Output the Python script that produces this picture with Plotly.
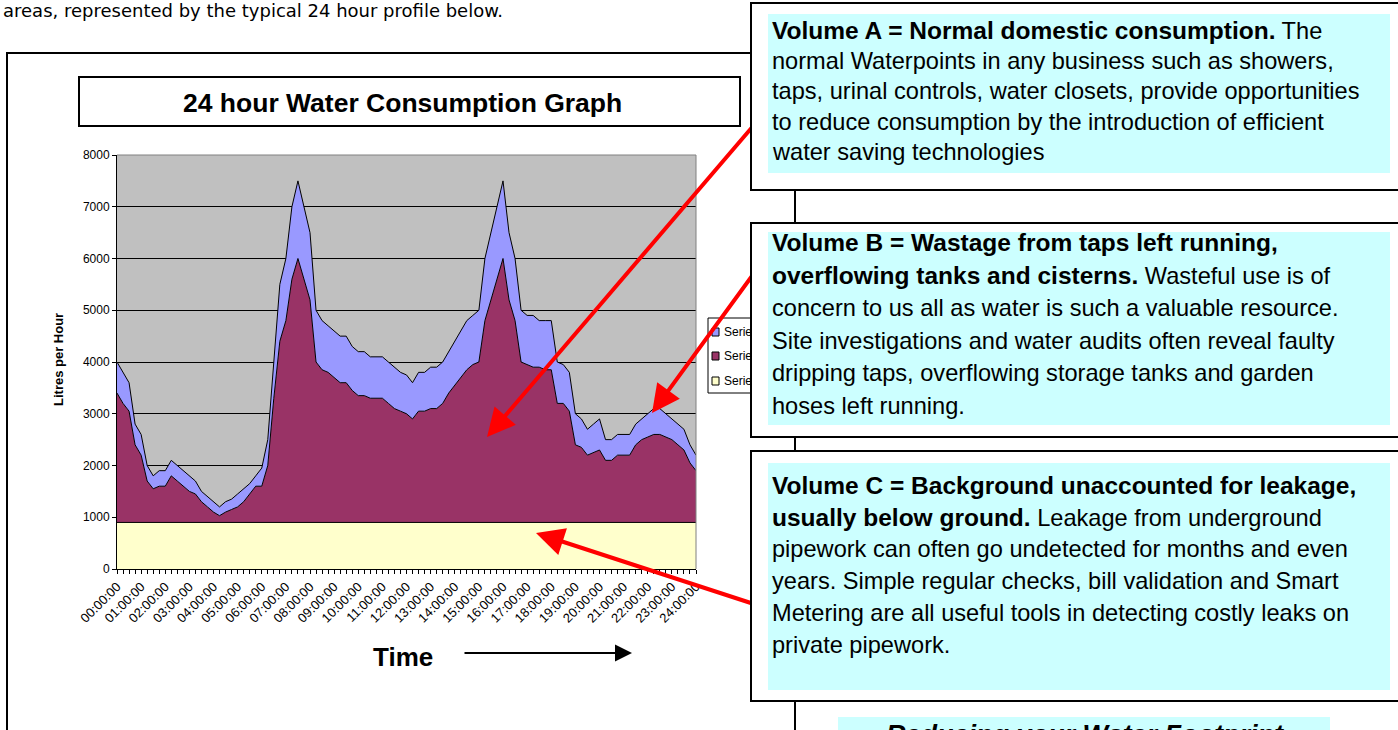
import plotly.graph_objects as go

# ---------------- data ----------------
# 15-minute readings, 00:00 .. 24:00 (97 points)
time_hours = [i / 4 for i in range(97)]
hour_labels = ["%02d:00:00" % h for h in range(25)]

# Series1 : background leakage (Volume C), litres/hour
leakage_c = [900] * 97

# top of Series2 (Volume A stacked on C)
top_a_c = [
    3400, 3200, 3050, 2400, 2200, 1700, 1550, 1600, 1600, 1800, 1700, 1600,
    1500, 1450, 1300, 1200, 1100, 1030, 1100, 1150, 1200, 1300, 1450, 1600,
    1600, 2000, 3300, 4400, 4800, 5600, 6000, 5600, 5200, 4000, 3850, 3800,
    3700, 3600, 3600, 3450, 3350, 3350, 3300, 3300, 3300, 3200, 3100, 3050,
    3000, 2900, 3050, 3050, 3100, 3100, 3200, 3400, 3550, 3700, 3850, 3950,
    4000, 4800, 5200, 5600, 6000, 5200, 4800, 4000, 3950, 3900, 3900, 3850,
    3850, 3200, 3200, 3050, 2400, 2350, 2200, 2250, 2300, 2100, 2100, 2200,
    2200, 2200, 2400, 2500, 2550, 2600, 2600, 2550, 2500, 2400, 2300, 2050,
    1900,
]

# top of Series3 (Volume B stacked on A + C) = total consumption
top_total = [
    4000, 3800, 3600, 2800, 2600, 2000, 1800, 1900, 1900, 2100, 2000, 1900,
    1800, 1700, 1500, 1400, 1300, 1200, 1300, 1350, 1450, 1550, 1650, 1800,
    1950, 2500, 4000, 5500, 6000, 7000, 7500, 7000, 6500, 5000, 4800, 4700,
    4600, 4500, 4500, 4300, 4200, 4200, 4100, 4100, 4100, 4000, 3900, 3800,
    3750, 3600, 3800, 3800, 3900, 3900, 4000, 4200, 4400, 4600, 4800, 4900,
    5000, 6000, 6500, 7000, 7500, 6500, 6000, 5000, 4900, 4900, 4800, 4800,
    4800, 4000, 3950, 3800, 3000, 2900, 2700, 2800, 2900, 2500, 2500, 2600,
    2600, 2600, 2800, 2900, 3000, 3100, 3100, 3000, 2900, 2800, 2700, 2400,
    2200,
]

series_names = ["Series1", "Series2", "Series3"]
series_colors = ["#FFFFCC", "#993366", "#9999FF"]

# ---------------- page geometry (pixels) ----------------
FIG_W, FIG_H = 1398, 730
PL, PT, PR, PB = 117, 155, 696, 569   # plot area


def px(x):
    return (x - PL) / (PR - PL)


def py(y):
    return (PB - y) / (PB - PT)


ARIAL = "Liberation Sans, Arial, sans-serif"

fig = go.Figure()
for name, ys, col, fill in zip(series_names, [leakage_c, top_a_c, top_total],
                               series_colors, ["tozeroy", "tonexty", "tonexty"]):
    fig.add_trace(go.Scatter(
        x=time_hours, y=ys, name=name, mode="lines",
        line=dict(color="black", width=1), fill=fill, fillcolor=col,
        hoverinfo="x+y",
    ))

shapes = []
annots = []


def rect(x0, y0, x1, y1, line="black", width=2, fill="rgba(0,0,0,0)", layer="above"):
    shapes.append(dict(type="rect", xref="paper", yref="paper",
                       x0=px(x0), x1=px(x1), y0=py(y0), y1=py(y1),
                       line=dict(color=line, width=width), fillcolor=fill, layer=layer))


def line(x0, y0, x1, y1, color="black", width=1):
    shapes.append(dict(type="line", xref="paper", yref="paper",
                       x0=px(x0), x1=px(x1), y0=py(y0), y1=py(y1),
                       line=dict(color=color, width=width), layer="above"))


def text(x, y, s, size, xanchor="left", yanchor="middle", family=ARIAL, angle=0, color="black"):
    annots.append(dict(x=px(x), y=py(y), xref="paper", yref="paper", text=s,
                       showarrow=False, xanchor=xanchor, yanchor=yanchor, textangle=angle,
                       font=dict(family=family, size=size, color=color)))


def arrow(x0, y0, x1, y1, color, width, head, size):
    annots.append(dict(x=px(x1), y=py(y1), xref="paper", yref="paper", text="",
                       showarrow=True, ax=x0 - x1, ay=y0 - y1, axref="pixel", ayref="pixel",
                       arrowcolor=color, arrowwidth=width, arrowhead=head, arrowsize=size,
                       standoff=0, startstandoff=0))


def box(x0, y0, x1, y1, bg, border=2, bcolor="black"):
    annots.append(dict(x=px(x0), y=py(y0), xref="paper", yref="paper", text=" ",
                       showarrow=False, xanchor="left", yanchor="top",
                       width=(x1 - x0) - 2 * border, height=(y1 - y0) - 2 * border,
                       bgcolor=bg, bordercolor=bcolor, borderwidth=border, borderpad=0,
                       font=dict(size=4)))


def bold(s):
    return '<b><span style="font-size:24.5px">%s</span></b>' % s


# outer chart frame
rect(7, 53, 795, 800, width=2)
# chart title box
rect(79, 77, 740, 126, width=2, fill="white")
# plot area top / right border (grey)
line(PL, PT, PR, PT, color="#808080", width=1)
line(PR, PT, PR, PB, color="#808080", width=1)

# legend (partly hidden behind text box B)
rect(708, 318, 790, 393, width=1, fill="white")
for i, (name, col) in enumerate(zip(series_names[::-1], series_colors[::-1])):
    cy = [332, 356, 381][i]
    rect(712, cy - 4, 719, cy + 4, width=1, fill=col)
    text(722, cy, name, 12)

# page text above the chart
text(1, 10, "areas, represented by the typical 24 hour profile below.", 18,
     family="DejaVu Sans, Verdana, sans-serif")
# chart title, axis titles
text(402, 103, "<b>24 hour Water Consumption Graph</b>", 26.5, xanchor="center")
text(58, 360, "<b>Litres per Hour</b>", 13, xanchor="center", angle=-90)
text(403, 657, "<b>Time</b>", 26, xanchor="center")
arrow(463, 653, 632, 653, "black", 2, 2, 1.7)

# red pointer arrows
arrow(760, 118, 487, 437, "#FF0000", 4, 2, 1.4)
arrow(760, 265, 652, 413, "#FF0000", 4, 2, 1.4)
arrow(760, 606, 536, 533, "#FF0000", 4, 2, 1.4)

# ---------------- explanatory text boxes ----------------
box_a = [bold("Volume A = Normal domestic consumption.") + " The",
         "normal Waterpoints in any business such as showers,",
         "taps, urinal controls, water closets, provide opportunities",
         "to reduce consumption by the introduction of efficient",
         "water saving technologies"]
box_b = [bold("Volume B = Wastage from taps left running,"),
         bold("overflowing tanks and cisterns.") + " Wasteful use is of",
         "concern to us all as water is such a valuable resource.",
         "Site investigations and water audits often reveal faulty",
         "dripping taps, overflowing storage tanks and garden",
         "hoses left running."]
box_c = [bold("Volume C = Background unaccounted for leakage,"),
         bold("usually below ground.") + " Leakage from underground",
         "pipework can often go undetected for months and even",
         "years. Simple regular checks, bill validation and Smart",
         "Metering are all useful tools in detecting costly leaks on",
         "private pipework."]

for (o, c, lines, y_first, step) in [
        ((750, 2, 1402, 191), (768, 14, 1390, 173), box_a, 30, 30.6),
        ((750, 222, 1402, 438), (768, 232, 1390, 425), box_b, 243, 32.5),
        ((750, 450, 1402, 702), (768, 463, 1390, 690), box_c, 485, 32.0)]:
    box(*o, bg="white")
    box(*c, bg="#CCFFFF", border=0)
    for k, s in enumerate(lines):
        text(770, y_first + k * step, s, 23.6)

# bottom heading box (cut off by the page edge)
box(838, 717, 1330, 780, bg="#CCFFFF", border=0)
text(1085, 735, "<b><i>Reducing your Water Footprint</i></b>", 27, xanchor="center")

fig.update_layout(
    template="none",
    width=FIG_W, height=FIG_H,
    margin=dict(l=PL, r=FIG_W - PR, t=PT, b=FIG_H - PB, autoexpand=False),
    paper_bgcolor="white", plot_bgcolor="#C0C0C0",
    showlegend=False,
    shapes=shapes, annotations=annots,
    xaxis=dict(range=[0, 24], tickmode="array", tickvals=list(range(25)), ticktext=hour_labels,
               tickangle=-45, ticks="outside", ticklen=4, tickcolor="black", tickwidth=1,
               showline=True, linecolor="black", linewidth=1, showgrid=False, zeroline=False,
               automargin=False,
               tickfont=dict(family=ARIAL, size=13, color="black"),
               minor=dict(dtick=0.25, tick0=0, ticks="outside", ticklen=4, tickcolor="black",
                          showgrid=False)),
    yaxis=dict(range=[0, 8000], dtick=1000, ticks="outside", ticklen=4, tickcolor="black",
               showline=True, linecolor="black", linewidth=1, showgrid=True,
               gridcolor="black", gridwidth=1, zeroline=False, automargin=False,
               tickfont=dict(family=ARIAL, size=12, color="black")),
)

fig.write_html("out.html", config={"displayModeBar": False},
               post_script="document.body.style.margin='0';")
